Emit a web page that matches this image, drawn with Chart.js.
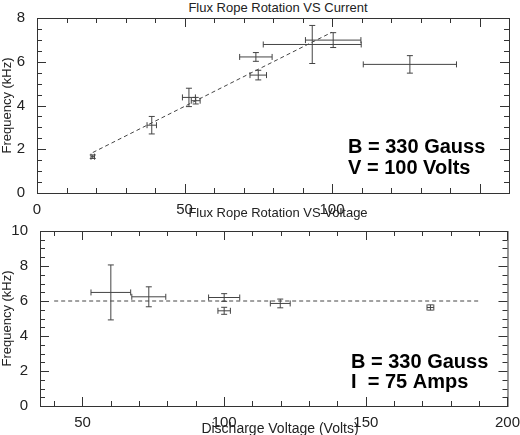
<!DOCTYPE html><html><head><meta charset="utf-8">
<script src="https://cdn.jsdelivr.net/npm/chart.js@4"></script>
<style>body{margin:0;background:#fff;width:520px;height:435px;position:relative;overflow:hidden;font-family:"Liberation Sans",Arial,sans-serif}
.c{position:absolute;left:0;width:520px}.t{position:absolute;width:100%;text-align:center;font-size:13px;color:#222;left:18px;line-height:14px}</style></head><body>
<div class="t" style="top:1px">Flux Rope Rotation VS Current</div>
<div class="c" style="top:0;height:218px"><canvas id="a"></canvas></div>
<div class="c" style="top:218px;height:217px"><canvas id="b"></canvas></div>
<div class="t" style="top:206px">Flux Rope Rotation VS Voltage</div>
<div class="t" style="top:421px;font-size:14px;left:20px">Discharge Voltage (Volts)</div>
<script>
// Top panel: frequency vs current
const curX=[18.9,38.9,51.5,53.8,74.2,75.0,93.3,100.4,126.4];
const curY=[1.66,3.10,4.37,4.22,6.22,5.39,6.79,6.99,5.88];
const curXerr=[0.6,1.6,2.2,1.5,5.5,2.8,16.6,9.4,15.8];
const curYerr=[0.08,0.40,0.42,0.15,0.20,0.22,0.87,0.34,0.40];
const curFitX=[18.9,100];const curFitY=[1.85,7.35];
// Bottom panel: frequency vs voltage
const volX=[60,73.4,100,100,119.8,172.8];
const volY=[6.49,6.24,6.20,5.44,5.86,5.63];
const volXerr=[7,6,5.5,2.2,3.5,1.2];
const volYerr=[1.57,0.57,0.22,0.2,0.25,0.15];
const volFitX=[40,190];const volFitY=[6,6];
const ink='#333';
function errPlugin(xs,ys,xe,ye){return{id:'err',afterDatasetsDraw(c){const X=c.scales.x,Y=c.scales.y,g=c.ctx;g.save();g.strokeStyle='#444';g.lineWidth=1;
for(let i=0;i<xs.length;i++){const px=X.getPixelForValue(xs[i]),py=Y.getPixelForValue(ys[i]);
const x0=X.getPixelForValue(xs[i]-xe[i]),x1=X.getPixelForValue(xs[i]+xe[i]),y0=Y.getPixelForValue(ys[i]-ye[i]),y1=Y.getPixelForValue(ys[i]+ye[i]);
g.beginPath();g.moveTo(x0,py);g.lineTo(x1,py);g.moveTo(px,y0);g.lineTo(px,y1);
g.moveTo(x0,py-3);g.lineTo(x0,py+3);g.moveTo(x1,py-3);g.lineTo(x1,py+3);
g.moveTo(px-3,y0);g.lineTo(px+3,y0);g.moveTo(px-3,y1);g.lineTo(px+3,y1);g.stroke();}
g.restore();}}}
function tickPlugin(xmaj,xmin,ymaj,ymin){return{id:'tk',afterDraw(c){const X=c.scales.x,Y=c.scales.y,a=c.chartArea,g=c.ctx;g.save();g.strokeStyle=ink;g.lineWidth=1;g.beginPath();
for(let v=Math.ceil(X.min/xmin)*xmin;v<=X.max;v+=xmin){const p=Math.round(X.getPixelForValue(v))+.5,L=(Math.abs(v/xmaj-Math.round(v/xmaj))<1e-6)?9:5;g.moveTo(p,a.bottom);g.lineTo(p,a.bottom-L);g.moveTo(p,a.top);g.lineTo(p,a.top+L);}
for(let v=Y.min;v<=Y.max+1e-9;v+=ymin){const p=Math.round(Y.getPixelForValue(v))+.5,L=(Math.abs(v/ymaj-Math.round(v/ymaj))<1e-6)?9:5;g.moveTo(a.left,p);g.lineTo(a.left+L,p);g.moveTo(a.right,p);g.lineTo(a.right-L,p);}
g.stroke();g.strokeRect(a.left+.5,a.top+.5,a.right-a.left,a.bottom-a.top);g.restore();}}}
function textPlugin(l1,l2,d1,d2){return{id:'tx',afterDraw(c){const a=c.chartArea,g=c.ctx;g.save();g.fillStyle='#000';g.font='bold 20px "Liberation Sans",Arial';g.textAlign='left';
g.fillText(l1,a.left+311,a.bottom-d1);g.fillText(l2,a.left+311,a.bottom-d2);g.restore();}}}
Chart.defaults.font.family='"Liberation Sans",Arial,sans-serif';Chart.defaults.color='#222';
function make(id,xs,ys,xe,ye,fx,fy,xr,yr,xstep,ystep,xmin,ymin,pad,xh,yw,l1,l2,d1,d2){
new Chart(document.getElementById(id),{type:'scatter',
data:{datasets:[{data:xs.map((x,i)=>({x,y:ys[i]})),pointRadius:0,showLine:false},
{data:fx.map((x,i)=>({x,y:fy[i]})),showLine:true,borderColor:'#444',borderWidth:1,borderDash:[4,3],pointRadius:0}]},
options:{responsive:true,maintainAspectRatio:false,animation:false,layout:{padding:pad},
plugins:{legend:{display:false},tooltip:{enabled:false}},
scales:{x:{type:'linear',min:xr[0],max:xr[1],grid:{display:false},border:{display:false},
ticks:{stepSize:xstep,font:{size:15},padding:0,maxRotation:0,callback:v=>v%xstep===0?v:''},afterFit:s=>{s.height=xh}},
y:{min:yr[0],max:yr[1],grid:{display:false},border:{display:false},ticks:{stepSize:ystep,font:{size:15},padding:4},afterFit:s=>{s.width=yw},
title:{display:true,text:'Frequency (kHz)',font:{size:13},padding:0}}}},
plugins:[errPlugin(xs,ys,xe,ye),tickPlugin(xstep,xmin,ystep,ymin),textPlugin(l1,l2,d1,d2)]});}
make('a',curX,curY,curXerr,curYerr,curFitX,curFitY,[0,160],[0,8],50,2,10,0.5,{top:18,right:11,left:0,bottom:0},25,37,'B = 330 Gauss','V = 100 Volts',40,19);
make('b',volX,volY,volXerr,volYerr,volFitX,volFitY,[35,200],[0,10],50,2,10,0.5,{top:13,right:11,left:0,bottom:0},29,40,'B = 330 Gauss','I  = 75 Amps',38,18);
</script></body></html>
